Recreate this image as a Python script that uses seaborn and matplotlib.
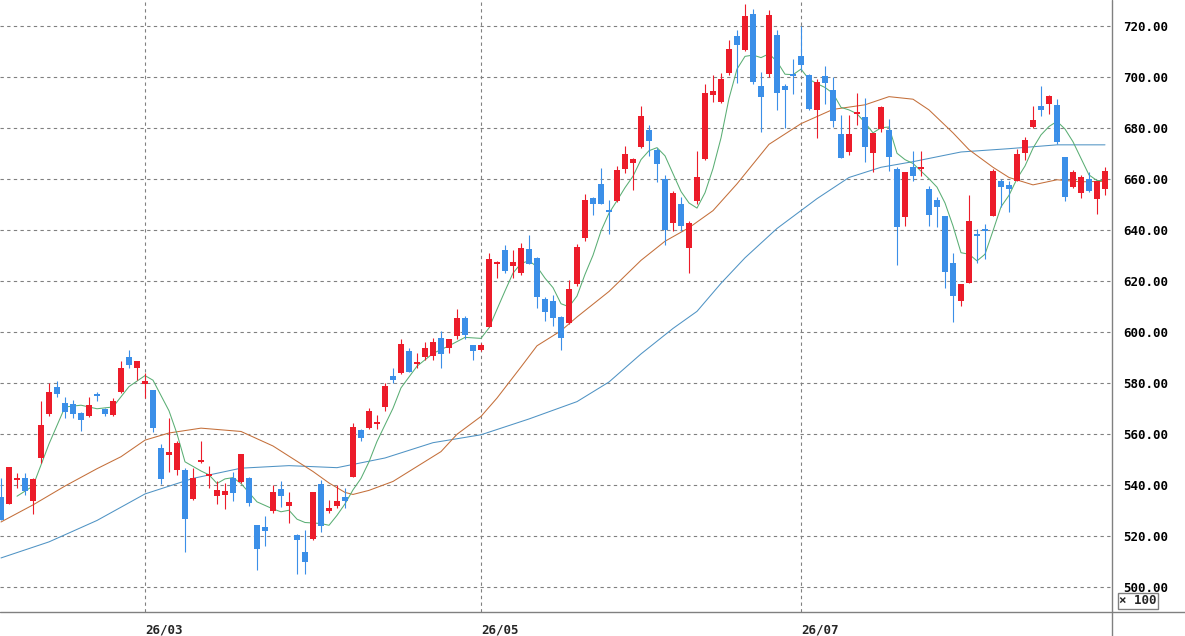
import numpy as np
import pandas as pd
import seaborn as sns
import matplotlib
matplotlib.use("Agg")
import matplotlib.pyplot as plt
from matplotlib.lines import Line2D

# daily candles (index 0..138)
opens = [535.3, 532.6, 542.0, 542.8, 533.7, 550.4, 567.7, 578.3, 572.0, 571.7,
         568.1, 566.8, 575.2, 569.7, 567.2, 576.4, 590.2, 585.8, 579.5, 577.0,
         554.6, 551.7, 545.8, 545.8, 534.6, 548.8, 543.5, 535.5, 535.8, 542.8,
         540.9, 542.8, 524.1, 523.5, 529.6, 538.2, 531.7, 520.2, 513.6, 518.9,
         540.3, 529.6, 531.6, 535.3, 543.1, 561.5, 562.2, 563.8, 570.3, 582.5,
         583.8, 592.4, 587.4, 590.0, 590.4, 597.4, 593.7, 598.3, 605.2, 594.8,
         593.0, 602.0, 626.5, 632.1, 625.8, 623.2, 632.4, 628.9, 613.0, 612.0,
         605.8, 603.5, 618.6, 636.7, 652.5, 658.0, 647.9, 651.1, 663.7, 666.3,
         672.4, 679.0, 671.4, 660.0, 642.5, 650.1, 633.0, 651.4, 667.8, 693.0,
         690.1, 701.5, 716.0, 710.5, 724.6, 696.3, 701.1, 716.4, 696.3, 700.8,
         708.2, 700.6, 686.9, 700.2, 694.7, 677.4, 670.4, 685.3, 684.2, 670.0,
         679.6, 679.3, 663.9, 645.1, 664.8, 664.0, 656.0, 651.7, 645.5, 627.1,
         612.0, 619.3, 638.3, 640.0, 645.5, 659.3, 657.7, 659.1, 670.0, 680.3,
         688.4, 689.2, 688.8, 668.5, 656.9, 654.3, 660.0, 652.1, 656.0]
closes = [526.2, 547.1, 542.8, 537.6, 542.2, 563.5, 576.4, 575.6, 568.7, 567.7,
          565.2, 571.1, 574.9, 567.7, 573.0, 585.8, 587.1, 588.4, 580.6, 562.2,
          542.2, 552.8, 556.4, 526.7, 542.5, 549.7, 544.4, 537.9, 537.5, 536.7,
          552.1, 533.0, 514.7, 521.9, 537.2, 535.5, 533.3, 518.2, 509.7, 537.2,
          523.9, 531.0, 533.7, 533.7, 562.8, 558.5, 569.0, 564.6, 578.6, 580.9,
          595.2, 584.2, 588.2, 593.7, 595.9, 591.1, 597.2, 605.2, 598.6, 592.6,
          595.0, 628.5, 627.1, 623.9, 627.4, 633.0, 626.5, 613.6, 607.7, 605.2,
          597.7, 616.7, 633.4, 651.7, 650.1, 650.1, 646.8, 663.5, 669.6, 667.6,
          684.5, 674.8, 665.6, 639.9, 654.3, 641.6, 642.5, 660.6, 693.7, 694.5,
          699.3, 710.7, 712.4, 723.9, 698.1, 691.9, 724.3, 693.7, 695.0, 700.4,
          704.8, 687.5, 698.0, 697.6, 682.6, 668.2, 677.7, 685.9, 672.4, 677.9,
          688.0, 668.5, 641.2, 662.6, 660.9, 664.5, 645.9, 649.1, 623.6, 614.0,
          618.9, 643.6, 637.4, 639.4, 663.2, 656.7, 656.0, 669.8, 675.3, 683.2,
          687.1, 692.4, 674.4, 653.0, 662.6, 660.6, 655.1, 659.0, 663.0]
highs = [542.5, 547.1, 544.5, 544.5, 542.5, 573.0, 579.9, 580.8, 574.5, 573.1,
         568.5, 574.6, 576.5, 570.0, 574.0, 588.7, 593.0, 588.4, 583.8, 577.0,
         556.0, 566.0, 557.0, 546.5, 546.4, 557.2, 547.4, 541.6, 540.5, 545.0,
         552.1, 543.0, 524.1, 527.8, 539.9, 541.3, 537.0, 520.5, 522.2, 537.2,
         541.9, 534.0, 539.9, 538.9, 564.1, 562.0, 570.0, 567.4, 580.0, 585.8,
         597.0, 593.7, 591.7, 595.9, 597.6, 600.4, 597.2, 608.8, 606.1, 595.0,
         595.6, 630.7, 627.8, 634.1, 632.0, 634.7, 638.0, 629.5, 613.5, 614.4,
         606.0, 620.2, 634.6, 654.1, 653.0, 664.3, 651.7, 665.1, 672.7, 668.0,
         688.4, 680.9, 672.0, 661.3, 655.1, 652.7, 643.5, 670.8, 697.1, 700.6,
         701.5, 714.4, 718.4, 728.6, 726.5, 701.9, 726.2, 718.3, 697.0, 706.9,
         719.9, 701.0, 699.0, 704.2, 700.0, 684.9, 684.9, 693.6, 691.5, 677.9,
         688.7, 683.5, 664.8, 662.6, 671.0, 670.7, 657.3, 652.7, 645.5, 631.0,
         618.9, 653.8, 640.3, 642.2, 664.0, 660.0, 659.3, 671.5, 676.3, 688.4,
         696.3, 692.8, 691.1, 668.7, 663.5, 661.3, 662.6, 659.0, 664.8]
lows = [526.0, 532.6, 538.7, 536.0, 528.7, 548.5, 567.0, 574.5, 566.3, 566.0,
        561.1, 566.5, 573.0, 566.8, 566.8, 576.0, 585.6, 581.2, 574.0, 560.5,
        540.4, 545.1, 544.0, 513.6, 534.0, 548.4, 538.7, 532.6, 530.5, 533.6,
        540.5, 531.7, 506.4, 516.0, 529.0, 531.2, 524.9, 505.1, 505.1, 518.5,
        521.6, 529.0, 531.0, 531.0, 543.0, 557.2, 562.0, 561.9, 569.0, 579.9,
        583.5, 584.2, 585.8, 589.1, 589.1, 585.8, 591.7, 597.0, 597.0, 589.1,
        592.4, 602.0, 621.2, 623.2, 621.2, 622.1, 626.5, 609.2, 604.3, 602.2,
        592.7, 603.0, 618.0, 635.4, 645.9, 650.1, 638.5, 651.0, 662.2, 655.6,
        672.0, 669.1, 658.6, 634.0, 639.6, 639.6, 623.2, 650.0, 667.5, 690.0,
        689.7, 700.5, 697.6, 710.0, 697.0, 678.5, 700.0, 686.9, 680.0, 693.4,
        702.6, 686.9, 676.1, 689.2, 680.3, 668.2, 669.5, 681.0, 666.5, 662.6,
        678.5, 663.0, 626.0, 641.6, 659.0, 661.2, 641.6, 640.9, 617.0, 604.0,
        610.1, 619.0, 627.1, 628.5, 645.5, 648.8, 646.8, 659.0, 667.2, 680.0,
        684.5, 685.3, 673.7, 651.1, 656.4, 652.5, 654.7, 646.2, 653.8]

# moving averages (x = candle index)
ma5_x = [2, 4, 6, 8, 10, 12, 14, 16, 18, 19, 21, 22, 23, 25, 26, 27, 28, 29, 30,
         32, 34, 35, 36, 37, 38, 40, 41, 42, 43, 44, 45, 46, 47, 48, 49, 50, 52,
         54, 56, 58, 60, 61, 62, 63, 64, 65, 66, 67, 68, 69, 70, 71, 72, 73, 74,
         75, 76, 77, 78, 79, 80, 81, 82, 83, 84, 85, 86, 87, 88, 89, 90, 91, 92,
         93, 94, 95, 96, 97, 98, 99, 100, 101, 102, 103, 104, 105, 106, 107, 108,
         109, 110, 111, 112, 113, 114, 116, 117, 118, 119, 120, 121, 122, 123,
         124, 125, 126, 127, 128, 129, 130, 131, 132, 133, 134, 135, 136, 137, 138]
ma5_y = [535.5, 539.5, 556.0, 570.5, 571.2, 569.8, 570.5, 578.5, 582.8, 581.0,
         569.0, 560.0, 549.0, 545.4, 543.9, 540.5, 542.3, 542.8, 540.5,
         533.3, 530.5, 529.4, 530.0, 526.5, 525.2, 524.8, 524.1, 528.0, 532.5,
         538.0, 542.5, 549.0, 557.0, 563.5, 570.0, 578.0, 586.5,
         591.5, 594.5, 597.8, 597.4, 601.5, 608.8, 616.0, 623.0, 626.8, 627.8,
         625.5, 621.0, 617.3, 611.0, 609.8, 614.0, 622.5, 630.0,
         639.5, 646.5, 651.4, 656.5, 661.0, 667.5, 671.0, 672.2, 669.0, 662.0,
         655.0, 650.5, 648.5, 654.5, 664.0, 676.0, 691.5, 703.0,
         708.0, 708.5, 707.5, 709.0, 706.0, 701.0, 700.8, 703.0, 699.0, 697.3,
         695.8, 693.5, 688.0, 687.0, 685.5, 682.0,
         678.0, 680.0, 680.3, 670.0, 667.5, 666.0, 660.0, 656.7, 650.5, 641.5,
         631.0, 630.4, 627.8, 630.4,
         639.6, 649.0, 653.5, 660.0, 665.0, 672.0, 677.2, 680.5, 682.5, 679.5,
         674.5, 668.0, 661.5, 659.3, 659.3]

ma25_x = [0, 4, 8, 12, 15, 18, 21, 25, 30, 34, 36, 39, 41, 43, 44, 46, 49, 51,
          55, 57, 60, 62, 65, 67, 70, 72, 76, 80, 83, 86, 89, 92, 96, 100, 104,
          108, 111, 114, 116, 119, 121, 124, 126, 129, 132, 135, 138]
ma25_y = [525.4, 532.1, 539.5, 546.3, 551.0, 557.5, 560.3, 562.2, 560.9, 555.2,
          551.2, 545.2, 540.7, 537.0, 536.2, 537.8, 541.3, 545.2,
          553.0, 559.8, 566.8, 574.0, 586.2, 594.5, 600.4, 605.8, 615.8, 628.0,
          635.5, 640.8, 647.5, 658.0, 673.5, 681.6, 687.2,
          689.0, 692.2, 691.2, 687.0, 678.0, 671.4, 664.5, 660.5, 657.6, 659.6,
          658.8, 659.0]

ma75_x = [0, 6, 12, 18, 24, 30, 36, 42, 48, 54, 60, 66, 72, 76, 80, 84, 87, 90,
          93, 97, 102, 106, 110, 114, 120, 126, 132, 138]
ma75_y = [511.3, 517.6, 526.0, 536.4, 542.5, 546.5, 547.5, 546.7, 550.5, 556.5,
          559.6, 565.8, 572.6, 580.3, 591.3, 601.3, 608.0, 619.0,
          629.0, 640.5, 652.2, 660.5, 664.5, 666.7, 670.5, 671.8, 673.3, 673.3]

month_pos = [18, 60, 100]
month_labels = ["26/03", "26/05", "26/07"]
price_ticks = list(range(500, 721, 20))

UP = "#ec1c2a"
DOWN = "#3b8fe8"
GRAY = "#808080"

sns.set_style("white")
plt.rcParams["font.family"] = ["DejaVu Sans Mono"]

candles = pd.DataFrame({"o": opens, "h": highs, "l": lows, "c": closes})
candles["i"] = np.arange(len(candles))
candles["col"] = np.where(candles.c >= candles.o, UP, DOWN)
candles["bottom"] = candles[["o", "c"]].min(axis=1)
candles["body"] = (candles.c - candles.o).abs().clip(lower=0.8)

fig = plt.figure(figsize=(11.85, 6.36), dpi=100)
ax = fig.add_axes([0, 24 / 636, 1112 / 1185, 612 / 636])

sns.lineplot(x=ma75_x, y=ma75_y, ax=ax, color="#4f93c4", linewidth=0.75,
             estimator=None, zorder=2)
sns.lineplot(x=ma25_x, y=ma25_y, ax=ax, color="#c46f3a", linewidth=0.75,
             estimator=None, zorder=2)
sns.lineplot(x=ma5_x, y=ma5_y, ax=ax, color="#5aae74", linewidth=0.75,
             estimator=None, zorder=2)

ax.vlines(candles.i, candles.l, candles.h, colors=candles.col, linewidth=0.8, zorder=3)
ax.bar(candles.i, candles.body, bottom=candles.bottom, width=0.74,
       color=candles.col, linewidth=0, zorder=4)

ax.set_xlim(-0.125, 138.875)
ax.set_ylim(490.1, 730.1)

ax.set_yticks(price_ticks)
ax.set_yticklabels([f"{v:.2f}" for v in price_ticks], fontsize=9, fontweight="bold")
ax.yaxis.tick_right()
ax.tick_params(axis="y", length=0, pad=8, colors="black")

ax.set_xticks(month_pos)
ax.set_xticklabels(month_labels, fontsize=9, fontweight="bold", ha="left")
ax.tick_params(axis="x", direction="out", length=7.5, width=0.8, color=GRAY, pad=1)

ax.grid(True, color=GRAY, linestyle=(0, (3, 3)), linewidth=0.8)
ax.set_axisbelow(True)
for s in ax.spines.values():
    s.set_visible(False)
ax.set_xlabel("")
ax.set_ylabel("")

fig.add_artist(Line2D([0, 1], [24 / 636, 24 / 636], transform=fig.transFigure,
                      color=GRAY, linewidth=1))
fig.add_artist(Line2D([1112 / 1185, 1112 / 1185], [0, 1], transform=fig.transFigure,
                      color=GRAY, linewidth=1))

fig.text(1138 / 1185, (636 - 601) / 636, "\u00d7 100", ha="center", va="center",
         fontsize=9, fontweight="bold",
         bbox=dict(boxstyle="square,pad=0.12", fc="white", ec=GRAY, lw=1))

fig.savefig("out.png", dpi=100, facecolor="white")
